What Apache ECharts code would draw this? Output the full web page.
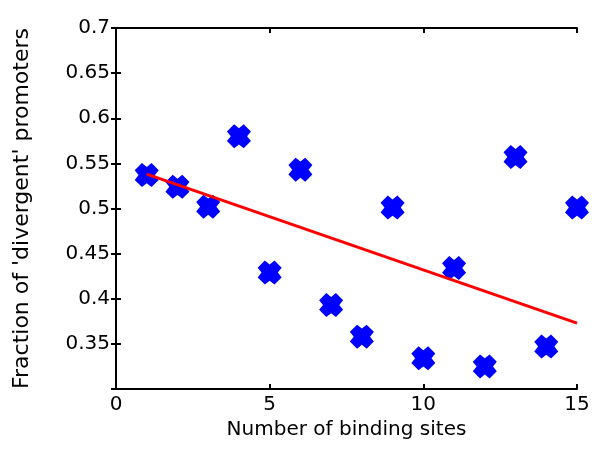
<!DOCTYPE html>
<html>
<head>
<meta charset="utf-8">
<script src="https://cdn.jsdelivr.net/npm/echarts@6/dist/echarts.min.js"></script>
<style>
  html, body { margin: 0; padding: 0; background: #fff; }
  #chart { width: 600px; height: 457px; }
</style>
</head>
<body>
<div id="chart"></div>
<script>
// binding sites vs fraction of divergent promoters
var sites = [1, 2, 3, 4, 5, 6, 7, 8, 9, 10, 11, 12, 13, 14, 15];
var fraction = [0.537, 0.524, 0.502, 0.580, 0.429, 0.543, 0.393, 0.358, 0.501, 0.334, 0.434, 0.325, 0.557, 0.347, 0.501];
var fitX = [1, 15];
var fitY = [0.538, 0.373];
var xTicks = [0, 5, 10, 15];
var yTicks = [0.35, 0.4, 0.45, 0.5, 0.55, 0.6, 0.65, 0.7];

var points = sites.map(function (s, i) { return [s, fraction[i]]; });
var fitLine = fitX.map(function (x, i) { return [x, fitY[i]]; });

var font = '"DejaVu Sans", Verdana, sans-serif';
var fatX = 'path://M0,3 L3,0 L5,1.6 L7,0 L10,3 L8.4,5 L10,7 L7,10 L5,8.4 L3,10 L0,7 L1.6,5 Z';

var chart = echarts.init(document.getElementById('chart'));

var lineStyle = { color: '#000', width: 2 };

chart.setOption({
    animation: false,
    grid: { left: 116, right: 23, top: 28, bottom: 68 },
    xAxis: [{
        type: 'value',
        min: 0, max: 15, interval: 5,
        name: 'Number of binding sites',
        nameLocation: 'middle',
        nameGap: 30,
        nameTextStyle: { fontFamily: font, fontSize: 20, color: '#000' },
        axisLine: { show: true, lineStyle: lineStyle },
        axisTick: { show: true, inside: true, length: 5, lineStyle: lineStyle },
        axisLabel: { fontFamily: font, fontSize: 20, color: '#000', margin: 6 },
        splitLine: { show: false }
    }, {
        type: 'value',
        position: 'top',
        min: 0, max: 15, interval: 5,
        axisLine: { show: true, lineStyle: lineStyle },
        axisTick: { show: true, inside: true, length: 5, lineStyle: lineStyle },
        axisLabel: { show: false },
        splitLine: { show: false }
    }],
    yAxis: [{
        type: 'value',
        min: 0.3, max: 0.7, interval: 0.05,
        name: "Fraction of 'divergent' promoters",
        nameLocation: 'middle',
        nameGap: 83,
        nameTextStyle: { fontFamily: font, fontSize: 22, color: '#000' },
        axisLine: { show: true, lineStyle: lineStyle },
        axisTick: { show: true, inside: true, length: 5, lineStyle: lineStyle },
        axisLabel: {
            fontFamily: font, fontSize: 20, color: '#000', margin: 6,
            formatter: function (v) {
                var r = Math.round(v * 100) / 100;
                return yTicks.indexOf(r) >= 0 ? String(r) : '';
            }
        },
        splitLine: { show: false }
    }, {
        type: 'value',
        position: 'right',
        min: 0.3, max: 0.7, interval: 0.05,
        axisLine: { show: true, lineStyle: lineStyle },
        axisTick: { show: true, inside: true, length: 5, lineStyle: lineStyle },
        axisLabel: { show: false },
        splitLine: { show: false }
    }],
    series: [{
        type: 'line',
        data: fitLine,
        showSymbol: false,
        symbol: 'none',
        lineStyle: { color: '#ff0000', width: 3 },
        z: 3
    }, {
        type: 'scatter',
        data: points,
        symbol: fatX,
        symbolSize: 24,
        itemStyle: { color: '#0000ff', opacity: 1 },
        z: 2
    }]
});
</script>
</body>
</html>
